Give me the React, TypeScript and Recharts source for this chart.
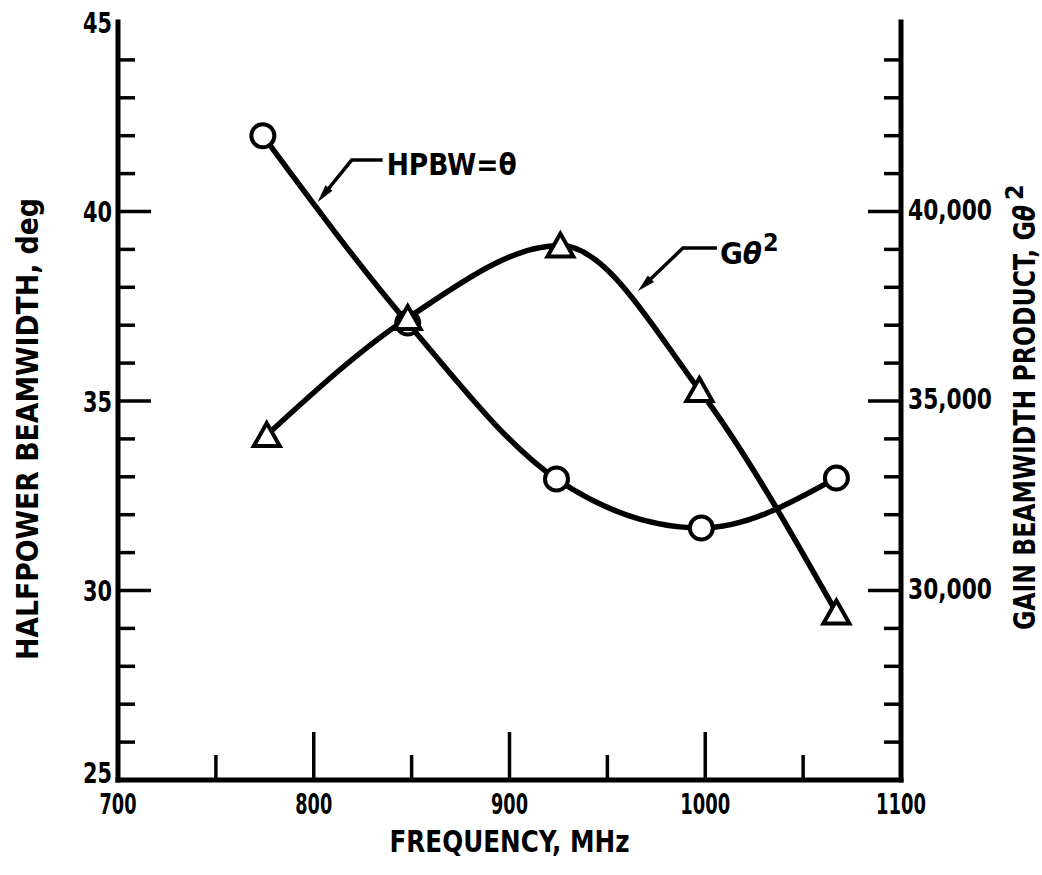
import React from 'react';
import { LineChart, Line, XAxis, YAxis, ReferenceDot } from 'recharts';

// ---- data ----
const hpbwFreq = [774, 848, 924, 998, 1067];
const hpbwDeg = [42.0, 37.06, 32.94, 31.65, 32.97];
const gainFreq = [776, 848, 926, 997, 1067];
const gainProduct = [34100, 37190, 39100, 35290, 29420];

const freqTicks = [700, 750, 800, 850, 900, 950, 1000, 1050, 1100];
const freqLabels = [700, 800, 900, 1000, 1100];
const degTicks = [25, 26, 27, 28, 29, 30, 31, 32, 33, 34, 35, 36, 37, 38, 39, 40, 41, 42, 43, 44, 45];
const degLabels = [25, 30, 35, 40, 45];
const gainTicks = [25000, 26000, 27000, 28000, 29000, 30000, 31000, 32000, 33000, 34000, 35000, 36000, 37000, 38000, 39000, 40000, 41000, 42000, 43000, 44000, 45000];
const gainLabels = [30000, 35000, 40000];

const hpbwData = hpbwFreq.map((f, i) => ({ f, v: hpbwDeg[i] }));
const gainData = gainFreq.map((f, i) => ({ f, v: gainProduct[i] }));

const FONT = "'Liberation Sans Narrow','Arial Narrow','DejaVu Sans Condensed','Liberation Sans',sans-serif";
const INK = '#000';

const fmtThousands = (v: number) => {
  const s = String(v);
  return s.slice(0, s.length - 3) + ',' + s.slice(s.length - 3);
};

const BottomTick = (props: any) => {
  const { x, y, payload } = props;
  const v = payload.value;
  const major = v % 100 === 0;
  const edge = v === 700 || v === 1100;
  return (
    <g>
      {!edge && <line x1={x} x2={x} y1={y} y2={y - (major ? 48 : 25)} stroke={INK} strokeWidth={3.5} />}
      {freqLabels.includes(v) && (
        <text x={x} y={y + 34} textAnchor="middle" fontFamily={FONT} fontWeight="bold" fontSize={28} fill={INK}
          textLength={v >= 1000 ? 50 : 37} lengthAdjust="spacingAndGlyphs">{v}</text>
      )}
    </g>
  );
};

const TopTick = (props: any) => {
  const { x, y, payload } = props;
  const v = payload.value;
  const major = v % 100 === 0;
  const edge = v === 700 || v === 1100;
  if (edge) return <g />;
  return <line x1={x} x2={x} y1={y} y2={y + (major ? 52 : 30)} stroke={INK} strokeWidth={3.5} />;
};

const LeftTick = (props: any) => {
  const { x, y, payload } = props;
  const v = payload.value;
  const major = v % 5 === 0;
  const edge = v === 25 || v === 45;
  const dy = v === 25 ? 3 : 10.5;
  return (
    <g>
      {!edge && <line x1={x} x2={x + (major ? 33 : 17)} y1={y} y2={y} stroke={INK} strokeWidth={3.5} />}
      {degLabels.includes(v) && (
        <text x={x - 6} y={y + dy} textAnchor="end" fontFamily={FONT} fontWeight="bold" fontSize={29} fill={INK}
          textLength={29} lengthAdjust="spacingAndGlyphs">{v}</text>
      )}
    </g>
  );
};

const RightTick = (props: any) => {
  const { x, y, payload } = props;
  const v = payload.value;
  const major = v % 5000 === 0;
  const edge = v === 25000 || v === 45000;
  return (
    <g>
      {!edge && <line x1={x} x2={x - (major ? 33 : 17)} y1={y} y2={y} stroke={INK} strokeWidth={3.5} />}
      {gainLabels.includes(v) && (
        <text x={x + 7} y={y + 8} textAnchor="start" fontFamily={FONT} fontWeight="bold" fontSize={29} fill={INK}
          textLength={84} lengthAdjust="spacingAndGlyphs">{fmtThousands(v)}</text>
      )}
    </g>
  );
};

const CircleDot = (p: any) => {
  if (p.cx == null || p.cy == null) return <g key={`c-${p.index}`} />;
  return <circle key={`c-${p.index}`} cx={p.cx} cy={p.cy} r={11.5} fill="#fff" stroke={INK} strokeWidth={4} />;
};

const TriangleDot = (p: any) => {
  if (p.cx == null || p.cy == null) return <g key={`t-${p.index}`} />;
  const { cx, cy } = p;
  const d = `M${cx},${cy - 12} L${cx + 13},${cy + 11} L${cx - 13},${cy + 11} Z`;
  return <path key={`t-${p.index}`} d={d} fill="#fff" stroke={INK} strokeWidth={4} strokeLinejoin="miter" />;
};

const Leader = ({ cx, cy, ex, ey, hx }: { cx: number; cy: number; ex: number; ey: number; hx: number }) => {
  const len = Math.hypot(ex, ey);
  const ux = ex / len;
  const uy = ey / len;
  const px = -uy;
  const py = ux;
  const bx = cx + ux * 18;
  const by = cy + uy * 18;
  const pts = `${cx},${cy} ${bx + px * 4.5},${by + py * 4.5} ${bx - px * 4.5},${by - py * 4.5}`;
  return (
    <g>
      <polyline points={`${cx + ux * 10},${cy + uy * 10} ${cx + ex},${cy + ey} ${cx + hx},${cy + ey}`} fill="none" stroke={INK} strokeWidth={3.5} />
      <polygon points={pts} fill={INK} />
    </g>
  );
};

const HpbwNote = (p: any) => {
  const { cx, cy } = p;
  if (cx == null || cy == null) return <g />;
  return (
    <g>
      <Leader cx={cx} cy={cy} ex={34} ey={-42} hx={65} />
      <text x={cx + 69} y={cy - 27} fontFamily={FONT} fontWeight="bold" fontSize={30} fill={INK}
        textLength={130} lengthAdjust="spacingAndGlyphs">HPBW=θ</text>
    </g>
  );
};

const GainNote = (p: any) => {
  const { cx, cy } = p;
  if (cx == null || cy == null) return <g />;
  return (
    <g>
      <Leader cx={cx} cy={cy} ex={45} ey={-43} hx={79} />
      <text x={cx + 82} y={cy - 27} fontFamily={FONT} fontWeight="bold" fontSize={31} fill={INK}>
        G<tspan fontStyle="italic">θ</tspan>
      </text>
      <text x={cx + 125} y={cy - 40} fontFamily={FONT} fontWeight="bold" fontSize={25} fill={INK}>2</text>
    </g>
  );
};

const XTitle = (p: any) => {
  const vb = p.viewBox || {};
  return (
    <text x={vb.x + vb.width / 2} y={vb.y + 72} textAnchor="middle" fontFamily={FONT} fontWeight="bold" fontSize={31} fill={INK}
      textLength={240} lengthAdjust="spacingAndGlyphs">FREQUENCY, MHz</text>
  );
};

const LeftTitle = (p: any) => {
  const vb = p.viewBox || {};
  const cx = vb.x + 38;
  const cy = vb.y + 407;
  return (
    <text transform={`translate(${cx},${cy}) rotate(-90)`} x={0} y={0} textAnchor="middle" fontFamily={FONT} fontWeight="bold"
      fontSize={31} fill={INK} textLength={462} lengthAdjust="spacingAndGlyphs">HALFPOWER BEAMWIDTH, deg</text>
  );
};

const RightTitle = (p: any) => {
  const vb = p.viewBox || {};
  const bx = vb.x + 134;
  const by = vb.y + 608;
  return (
    <g transform={`translate(${bx},${by}) rotate(-90)`}>
      <text x={0} y={0} textAnchor="start" fontFamily={FONT} fontWeight="bold" fontSize={31} fill={INK}
        textLength={425} lengthAdjust="spacingAndGlyphs">GAIN BEAMWIDTH PRODUCT, G<tspan fontStyle="italic">θ</tspan></text>
      <text x={430} y={-12} textAnchor="start" fontFamily={FONT} fontWeight="bold" fontSize={25} fill={INK}>2</text>
    </g>
  );
};

const axisLineStyle = { stroke: INK, strokeWidth: 5, strokeLinecap: 'square' as const };

export default function App() {
  return (
    <div style={{ position: 'absolute', left: 0, top: 0, width: 1042, height: 875, background: '#fff' }}>
      <LineChart width={1042} height={875} margin={{ top: 22, right: 0, bottom: 0, left: 0 }}>
        <XAxis xAxisId="bottom" type="number" dataKey="f" domain={[700, 1100]} ticks={freqTicks} interval={0}
          orientation="bottom" height={95} tickSize={0} tickMargin={0} tickLine={false} axisLine={axisLineStyle}
          tick={<BottomTick />} label={{ content: <XTitle /> } as any} allowDataOverflow />
        <XAxis xAxisId="top" type="number" dataKey="f" domain={[700, 1100]} ticks={freqTicks} interval={0}
          orientation="top" height={0} tickSize={0} tickMargin={0} tickLine={false} axisLine={axisLineStyle}
          tick={<TopTick />} allowDataOverflow />
        <YAxis yAxisId="left" type="number" domain={[25, 45]} ticks={degTicks} interval={0} orientation="left"
          width={118} tickSize={0} tickMargin={0} tickLine={false} axisLine={axisLineStyle} tick={<LeftTick />}
          label={{ content: <LeftTitle /> } as any} allowDataOverflow />
        <YAxis yAxisId="right" type="number" domain={[25000, 45000]} ticks={gainTicks} interval={0} orientation="right"
          width={141} tickSize={0} tickMargin={0} tickLine={false} axisLine={axisLineStyle} tick={<RightTick />}
          label={{ content: <RightTitle /> } as any} allowDataOverflow />
        <Line xAxisId="bottom" yAxisId="left" data={hpbwData} dataKey="v" type="monotone" stroke={INK} strokeWidth={5.5}
          dot={CircleDot} activeDot={false} isAnimationActive={false} />
        <Line xAxisId="bottom" yAxisId="right" data={gainData} dataKey="v" type="monotone" stroke={INK} strokeWidth={5.5}
          dot={TriangleDot} activeDot={false} isAnimationActive={false} />
        <ReferenceDot xAxisId="bottom" yAxisId="left" x={802} y={40.25} r={0} shape={HpbwNote} ifOverflow="visible" />
        <ReferenceDot xAxisId="bottom" yAxisId="right" x={965.6} y={37900} r={0} shape={GainNote} ifOverflow="visible" />
      </LineChart>
    </div>
  );
}
